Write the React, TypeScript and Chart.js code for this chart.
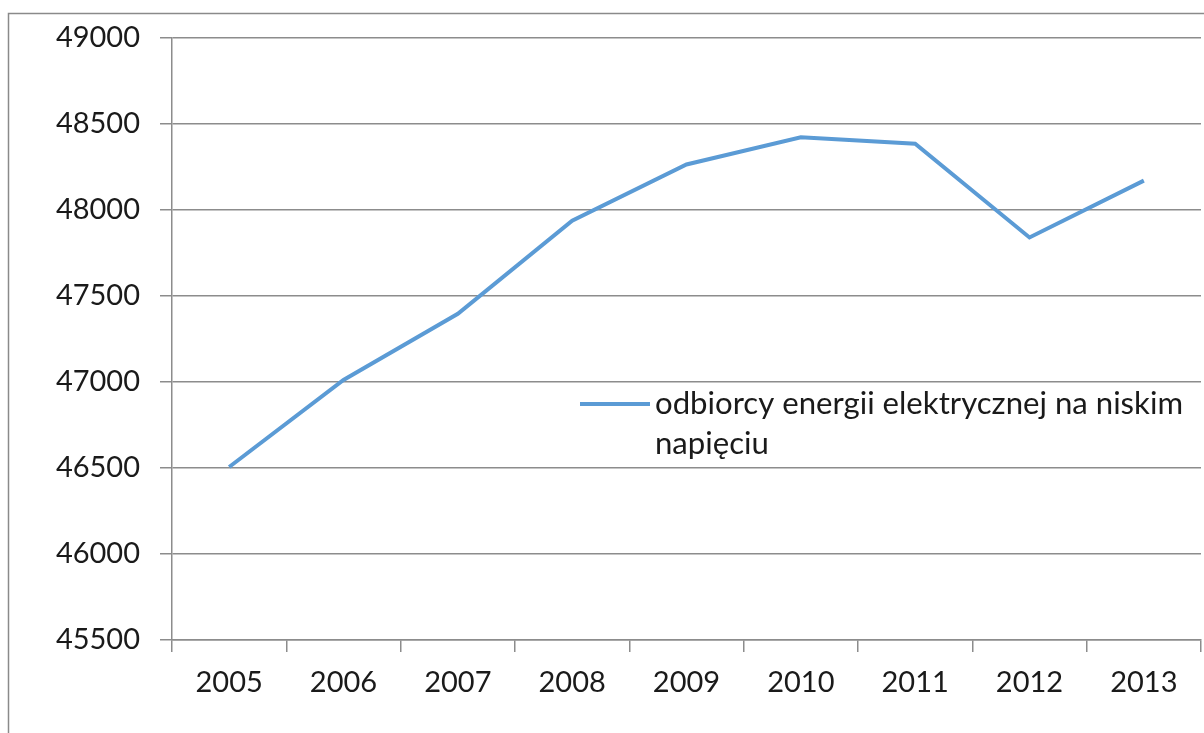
import React, { useEffect, useRef } from "react";
import { Chart, registerables } from "chart.js";

Chart.register(...registerables);

const categories = ["2005", "2006", "2007", "2008", "2009", "2010", "2011", "2012", "2013"];
const seriesLabel = "odbiorcy energii elektrycznej na niskim napięciu";
const legendLines = ["odbiorcy energii elektrycznej na niskim", "napięciu"];
const values = [46505, 47010, 47395, 47935, 48262, 48420, 48382, 47838, 48168];

const FONT = "Lato, Carlito, 'Liberation Sans', sans-serif";
const GRID = "#8c8c8c";

export default function App() {
  const ref = useRef<HTMLCanvasElement | null>(null);

  useEffect(() => {
    if (!ref.current) return;
    const frame = {
      id: "frame",
      afterDraw(chart: any) {
        const ctx = chart.ctx;
        ctx.save();
        ctx.strokeStyle = "#8a8a8a";
        ctx.lineWidth = 1.5;
        ctx.strokeRect(8.5, 13.5, 1300, 800);
        // legend
        const y0 = 404;
        ctx.strokeStyle = "#5b9bd5";
        ctx.lineWidth = 4;
        ctx.beginPath();
        ctx.moveTo(580, y0);
        ctx.lineTo(650, y0);
        ctx.stroke();
        ctx.fillStyle = "#1a1a1a";
        ctx.font = `30px ${FONT}`;
        ctx.textBaseline = "middle";
        ctx.textAlign = "left";
        const w = ctx.measureText(legendLines[0]).width;
        const target = 528;
        ctx.save();
        ctx.translate(655, y0);
        ctx.scale(target / w, 1);
        ctx.fillText(legendLines[0], 0, 0);
        ctx.fillText(legendLines[1], 0, 40);
        ctx.restore();
        ctx.restore();
      },
    };
    const chart = new Chart(ref.current, {
      type: "line",
      data: {
        labels: categories,
        datasets: [
          {
            label: seriesLabel,
            data: values,
            borderColor: "#5b9bd5",
            borderWidth: 4,
            pointRadius: 0,
            tension: 0,
            fill: false,
          },
        ],
      },
      options: {
        animation: false,
        responsive: false,
        layout: { padding: { left: 0, top: 34, right: 3, bottom: 0 } },
        plugins: { legend: { display: false }, tooltip: { enabled: false } },
        scales: {
          x: {
            offset: true,
            grid: {
              offset: true,
              drawOnChartArea: false,
              drawTicks: true,
              tickLength: 12,
              color: GRID,
              lineWidth: 1.5,
            },
            border: { display: true, color: GRID, width: 1.5 },
            ticks: {
              color: "#1a1a1a",
              font: { family: FONT, size: 29 },
              padding: 13,
              maxRotation: 0,
            },
            afterFit(scale: any) {
              scale.height = 93;
            },
          },
          y: {
            min: 45500,
            max: 49000,
            ticks: {
              stepSize: 500,
              color: "#1a1a1a",
              font: { family: FONT, size: 29 },
              padding: 20,
              callback: (v: any) => String(v),
            },
            grid: {
              color: GRID,
              lineWidth: 1.5,
              drawTicks: true,
              tickLength: 12,
            },
            border: { display: true, color: GRID, width: 1.5 },
            afterFit(scale: any) {
              scale.width = 172;
            },
          },
        },
      },
      plugins: [frame],
    });
    return () => chart.destroy();
  }, []);

  return (
    <div style={{ position: "fixed", left: 0, top: 0, width: 1204, height: 733, background: "#fff" }}>
      <canvas ref={ref} width={1204} height={733} style={{ display: "block" }} />
    </div>
  );
}
